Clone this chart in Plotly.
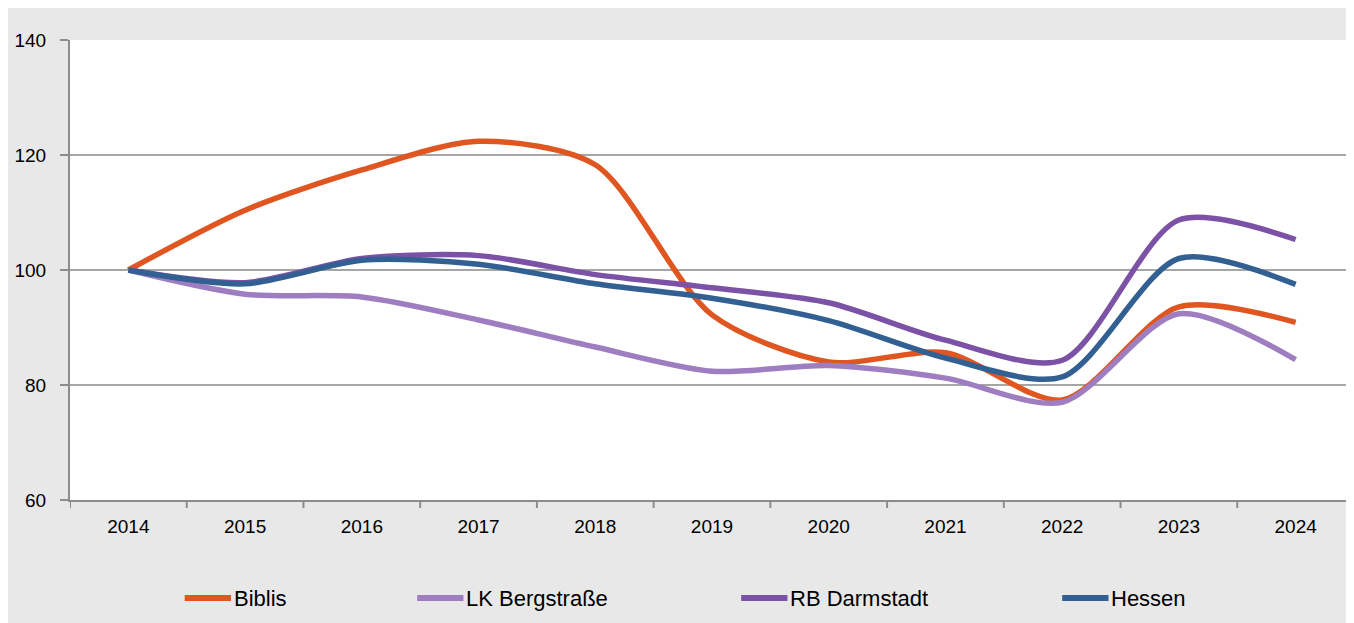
import plotly.graph_objects as go

years = ["2014", "2015", "2016", "2017", "2018", "2019", "2020", "2021", "2022", "2023", "2024"]
biblis = [100, 110.4, 117.4, 122.4, 118.3, 92.2, 84.0, 85.6, 77.4, 93.6, 90.9]
lk_bergstrasse = [100, 95.8, 95.3, 91.3, 86.6, 82.4, 83.4, 81.2, 77.0, 92.4, 84.4]
rb_darmstadt = [100, 97.8, 102.0, 102.5, 99.2, 96.9, 94.3, 87.8, 84.3, 108.7, 105.3]
hessen = [100, 97.6, 101.7, 101.0, 97.6, 95.1, 91.2, 84.7, 81.4, 102.0, 97.5]

series_names = ["Biblis", "LK Bergstraße", "RB Darmstadt", "Hessen"]
series_values = [biblis, lk_bergstrasse, rb_darmstadt, hessen]
colors = ["#E05621", "#9E7EC0", "#7B52A5", "#336092"]
y_ticks = [60, 80, 100, 120, 140]

FONT = "Liberation Sans, Arial, sans-serif"

# page body has an 8px margin; figure placed at (8, 8)
OFF = 8
W = 1276.0
H = 460.0

fig = go.Figure()
for name, vals, col in zip(series_names, series_values, colors):
    fig.add_trace(go.Scatter(
        x=list(range(len(years))), y=vals, name=name, mode="lines",
        line=dict(color=col, width=5.5, shape="spline", smoothing=0.8),
        showlegend=False, hoverinfo="skip",
    ))

# custom legend (page pixel positions converted to paper coords)
leg_x = [184, 415, 737, 1056]
leg_y = 598
for name, col, lx in zip(series_names, colors, leg_x):
    x0 = (lx - 70) / W
    x1 = (lx + 46 - 70) / W
    yy = (500 - leg_y) / H
    fig.add_shape(type="line", xref="paper", yref="paper", x0=x0, x1=x1, y0=yy, y1=yy,
                  line=dict(color=col, width=6), layer="above")
    fig.add_annotation(xref="paper", yref="paper", x=(lx + 47 - 70) / W, y=yy,
                       xanchor="left", yanchor="middle", showarrow=False,
                       text=name, font=dict(family=FONT, size=22, color="#000000"))

fig.update_layout(
    width=1354 - OFF, height=623 - OFF,
    margin=dict(l=70 - OFF, r=0, t=40 - OFF, b=123, pad=0),
    paper_bgcolor="#E8E8E8",
    plot_bgcolor="#FFFFFF",
    font=dict(family=FONT, size=19, color="#000000"),
    xaxis=dict(
        range=[-0.5, len(years) - 0.5],
        tickmode="array", tickvals=list(range(len(years))), ticktext=years,
        showgrid=False, zeroline=False,
        showline=True, linecolor="#8C8C8C", linewidth=2,
        ticks="", ticklabelstandoff=8,
        fixedrange=True,
    ),
    yaxis=dict(
        range=[60, 140], tickvals=y_ticks,
        showgrid=True, gridcolor="#A6A6A6", gridwidth=1.5,
        zeroline=False,
        showline=True, linecolor="#8C8C8C", linewidth=2,
        ticks="outside", ticklen=8, tickcolor="#8C8C8C", tickwidth=2,
        ticklabelstandoff=10,
        fixedrange=True,
    ),
)
for i in range(len(years) + 1):
    fig.add_shape(type="line", xref="x", yref="paper", x0=i - 0.5, x1=i - 0.5,
                  y0=0, y1=-8 / H, line=dict(color="#8C8C8C", width=2))

fig.write_html("out.html")
